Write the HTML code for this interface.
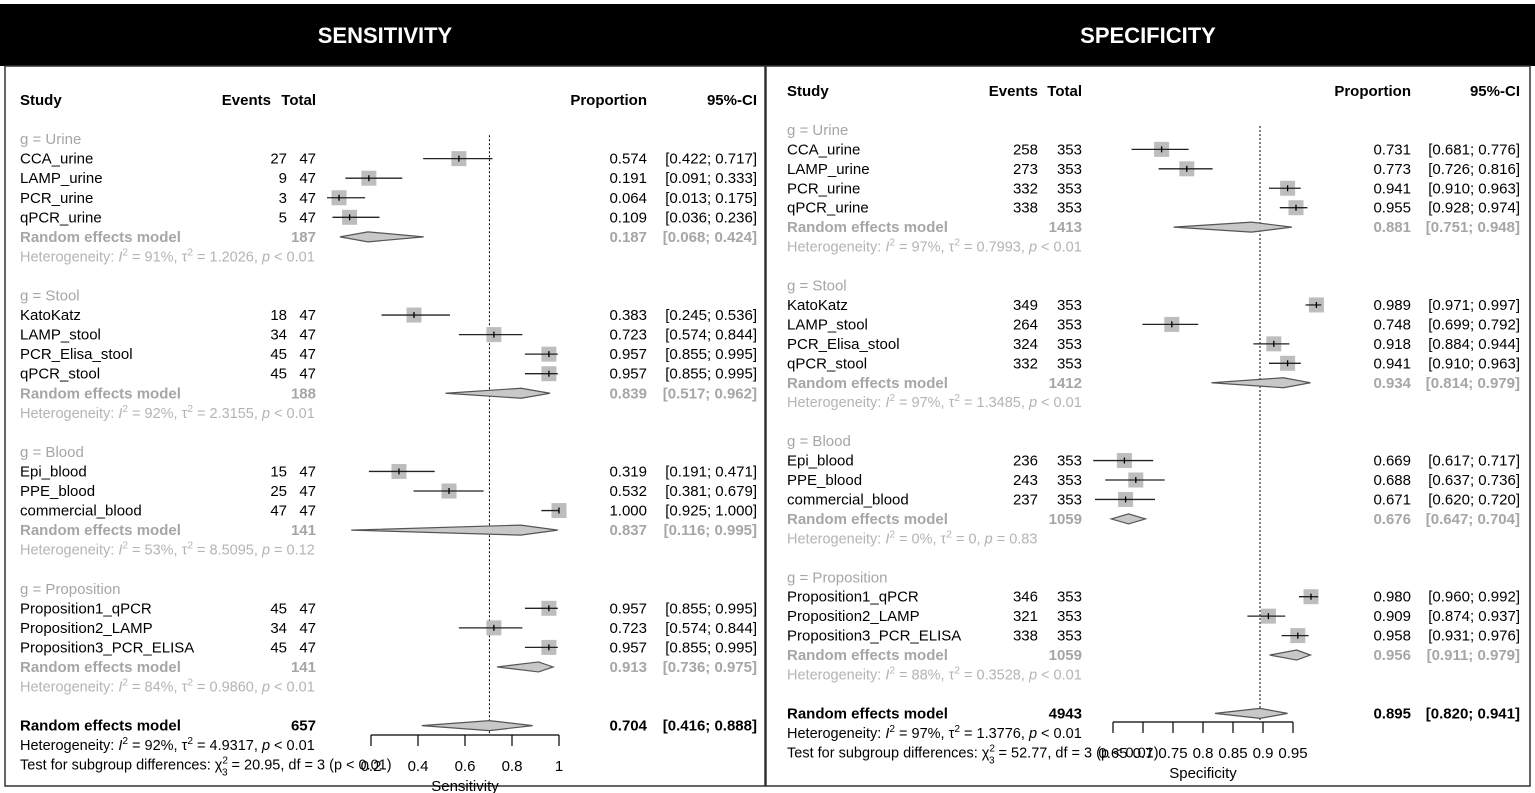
<!DOCTYPE html>
<html><head><meta charset="utf-8"><style>
html,body{margin:0;padding:0;background:#fff;}
svg{display:block;font-family:"Liberation Sans",Arial,sans-serif;}
</style></head><body>
<svg id="chart" width="1535" height="793" viewBox="0 0 1535 793" xmlns="http://www.w3.org/2000/svg">
<rect x="0" y="0" width="1535" height="793" fill="#fff"/>
<rect x="0" y="4" width="1535" height="62" fill="#000"/>
<text x="385" y="43" fill="#fff" font-size="22" font-weight="bold" text-anchor="middle">SENSITIVITY</text>
<text x="1148" y="43" fill="#fff" font-size="22" font-weight="bold" text-anchor="middle">SPECIFICITY</text>
<rect x="5" y="66" width="760" height="720" fill="none" stroke="#333" stroke-width="1.5"/>
<rect x="766" y="66" width="764" height="720" fill="none" stroke="#333" stroke-width="1.5"/>
<g id="left"></g><g id="right"></g>
</svg>
<script>
// ===== Sensitivity data =====
const sensGroups = ["Urine","Stool","Blood","Proposition"];
const sensStudies = ["CCA_urine","LAMP_urine","PCR_urine","qPCR_urine","KatoKatz","LAMP_stool","PCR_Elisa_stool","qPCR_stool","Epi_blood","PPE_blood","commercial_blood","Proposition1_qPCR","Proposition2_LAMP","Proposition3_PCR_ELISA"];
const sensStudyGroup = [0,0,0,0,1,1,1,1,2,2,2,3,3,3];
const sensEvents = [27,9,3,5,18,34,45,45,15,25,47,45,34,45];
const sensTotals = [47,47,47,47,47,47,47,47,47,47,47,47,47,47];
const sensProp = [0.574,0.191,0.064,0.109,0.383,0.723,0.957,0.957,0.319,0.532,1.000,0.957,0.723,0.957];
const sensLo = [0.422,0.091,0.013,0.036,0.245,0.574,0.855,0.855,0.191,0.381,0.925,0.855,0.574,0.855];
const sensHi = [0.717,0.333,0.175,0.236,0.536,0.844,0.995,0.995,0.471,0.679,1.000,0.995,0.844,0.995];
const sensGroupTotal = [187,188,141,141];
const sensGroupEst = [0.187,0.839,0.837,0.913];
const sensGroupLo = [0.068,0.517,0.116,0.736];
const sensGroupHi = [0.424,0.962,0.995,0.975];
const sensGroupI2 = ["91%","92%","53%","84%"];
const sensGroupTau2 = ["1.2026","2.3155","8.5095","0.9860"];
const sensGroupP = ["p < 0.01","p < 0.01","p = 0.12","p < 0.01"];
const sensOverall = [657,0.704,0.416,0.888];
const sensOverallHet = ["92%","4.9317","p < 0.01"];
const sensTest = ["20.95","3","(p < 0.01)"];
const sensTicks = [0.2,0.4,0.6,0.8,1];
const sensTickLabels = ["0.2","0.4","0.6","0.8","1"];

// ===== Specificity data =====
const specGroups = ["Urine","Stool","Blood","Proposition"];
const specStudies = ["CCA_urine","LAMP_urine","PCR_urine","qPCR_urine","KatoKatz","LAMP_stool","PCR_Elisa_stool","qPCR_stool","Epi_blood","PPE_blood","commercial_blood","Proposition1_qPCR","Proposition2_LAMP","Proposition3_PCR_ELISA"];
const specStudyGroup = [0,0,0,0,1,1,1,1,2,2,2,3,3,3];
const specEvents = [258,273,332,338,349,264,324,332,236,243,237,346,321,338];
const specTotals = [353,353,353,353,353,353,353,353,353,353,353,353,353,353];
const specProp = [0.731,0.773,0.941,0.955,0.989,0.748,0.918,0.941,0.669,0.688,0.671,0.980,0.909,0.958];
const specLo = [0.681,0.726,0.910,0.928,0.971,0.699,0.884,0.910,0.617,0.637,0.620,0.960,0.874,0.931];
const specHi = [0.776,0.816,0.963,0.974,0.997,0.792,0.944,0.963,0.717,0.736,0.720,0.992,0.937,0.976];
const specGroupTotal = [1413,1412,1059,1059];
const specGroupEst = [0.881,0.934,0.676,0.956];
const specGroupLo = [0.751,0.814,0.647,0.911];
const specGroupHi = [0.948,0.979,0.704,0.979];
const specGroupI2 = ["97%","97%","0%","88%"];
const specGroupTau2 = ["0.7993","1.3485","0","0.3528"];
const specGroupP = ["p < 0.01","p < 0.01","p = 0.83","p < 0.01"];
const specOverall = [4943,0.895,0.820,0.941];
const specOverallHet = ["97%","1.3776","p < 0.01"];
const specTest = ["52.77","3","(p < 0.01)"];
const specTicks = [0.65,0.7,0.75,0.8,0.85,0.9,0.95];
const specTickLabels = ["0.65","0.7","0.75","0.8","0.85","0.9","0.95"];

const NS="http://www.w3.org/2000/svg";
function mk(parent,tag,attrs,txt){const e=document.createElementNS(NS,tag);for(const k in attrs)e.setAttribute(k,attrs[k]);if(txt!==undefined)e.textContent=txt;parent.appendChild(e);return e;}
function f3(v){return v.toFixed(3);}

function drawPanel(root,P){
  const x=v=>P.x0+(v-P.v0)*P.scale;
  const rowY=r=>P.base+r*P.step;
  const FS=15, GRAY="#a6a6a6", LG="#b4b4b4";
  function txt(xp,r,s,opts){
    const t=mk(root,"text",{x:xp,y:rowY(r)+5,"font-size":opts.fs||FS,fill:opts.fill||"#000","text-anchor":opts.anchor||"start","font-weight":opts.bold?"bold":"normal"},s);
    return t;
  }
  function het(r,i2,tau,p,fill,fs){
    const t=mk(root,"text",{x:P.colStudy,y:rowY(r)+5,"font-size":fs,fill:fill});
    
    
    mk(t,"tspan",{},"Heterogeneity: ");
    mk(t,"tspan",{"font-style":"italic"},"I");
    mk(t,"tspan",{"font-size":fs*0.7,dy:-6},"2");
    mk(t,"tspan",{dy:6},` = ${i2}, τ`);
    mk(t,"tspan",{"font-size":fs*0.7,dy:-6},"2");
    const pp=p.split(" ");
    mk(t,"tspan",{dy:6},` = ${tau}, `);
    mk(t,"tspan",{"font-style":"italic"},pp[0]);
    mk(t,"tspan",{}," "+pp.slice(1).join(" "));
  }
  function diamond(r,est,lo,hi,name){
    const y=rowY(r);
    const d=mk(root,"polygon",{points:`${x(lo)},${y} ${x(est)},${y-5} ${x(hi)},${y} ${x(est)},${y+5}`,fill:"#c8c8c8",stroke:"#555","stroke-width":1.2});
    
    
  }
  const hs=[["Study",P.colStudy,"start","column-header-study"],["Events",P.colEvH,"end","column-header-events"],["Total",P.colTot,"end","column-header-total"],["Proportion",P.colProp,"end","column-header-proportion"],["95%-CI",P.colCI,"end","column-header-ci"]];
  hs.forEach(h=>{const t=txt(h[1],0,h[0],{bold:true,anchor:h[2]});});
  const ref=mk(root,"line",{x1:x(P.overall[1]),x2:x(P.overall[1]),y1:rowY(1.8),y2:P.axisY,stroke:"#000","stroke-dasharray":"2,2","stroke-width":1});
  
  
  let r=2, si=0;
  for(let g=0;g<P.groups.length;g++){
    const gt=txt(P.colStudy,r,"g = "+P.groups[g],{fill:GRAY});
    
    
    r++;
    while(si<P.studies.length && P.sg[si]===g){
      const y=rowY(r);
      const n=txt(P.colStudy,r,P.studies[si],{});
      
      
      const e=txt(P.colEv,r,String(P.ev[si]),{anchor:"end"});
      
      
      const tt=txt(P.colTot,r,String(P.tot[si]),{anchor:"end"});
      
      
      const pr=txt(P.colProp,r,f3(P.prop[si]),{anchor:"end"});
      
      
      const ci=txt(P.colCI,r,`[${f3(P.lo[si])}; ${f3(P.hi[si])}]`,{anchor:"end"});
      
      
      const sq=mk(root,"rect",{x:x(P.prop[si])-7.5,y:y-7.5,width:15,height:15,fill:"#bdbdbd"});
      
      
      const ln=mk(root,"line",{x1:x(P.lo[si]),x2:x(P.hi[si]),y1:y,y2:y,stroke:"#222","stroke-width":1.3});
      
      
      const tk=mk(root,"line",{x1:x(P.prop[si]),x2:x(P.prop[si]),y1:y-3,y2:y+3,stroke:"#000","stroke-width":1.3});
      
      
      si++; r++;
    }
    const rl=txt(P.colStudy,r,"Random effects model",{fill:GRAY,bold:true});
    
    
    const rt=txt(P.colTot,r,String(P.gTot[g]),{fill:GRAY,bold:true,anchor:"end"});
    
    
    const rp=txt(P.colProp,r,f3(P.gEst[g]),{fill:GRAY,bold:true,anchor:"end"});
    
    
    const rc=txt(P.colCI,r,`[${f3(P.gLo[g])}; ${f3(P.gHi[g])}]`,{fill:GRAY,bold:true,anchor:"end"});
    
    
    diamond(r,P.gEst[g],P.gLo[g],P.gHi[g],'subgroup-diamond');
    r++;
    het(r,P.gI2[g],P.gTau[g],P.gP[g],LG,14.5);
    r+=2;
  }
  const ol=txt(P.colStudy,r,"Random effects model",{bold:true});
  
  
  const ot=txt(P.colTot,r,String(P.overall[0]),{bold:true,anchor:"end"});
  
  
  const op=txt(P.colProp,r,f3(P.overall[1]),{bold:true,anchor:"end"});
  
  
  const oc=txt(P.colCI,r,`[${f3(P.overall[2])}; ${f3(P.overall[3])}]`,{bold:true,anchor:"end"});
  
  
  diamond(r,P.overall[1],P.overall[2],P.overall[3],'overall-diamond');
  het(r+1,P.oHet[0],P.oHet[1],P.oHet[2],"#000",14.5);
  const t=mk(root,"text",{x:P.colStudy,y:rowY(r+2)+5,"font-size":14.5,fill:"#000"});
  
  
  mk(t,"tspan",{},"Test for subgroup differences: χ");
  mk(t,"tspan",{"font-size":10,dy:-6},"2");
  mk(t,"tspan",{"font-size":10,dx:-6,dy:12},"3");
  mk(t,"tspan",{dy:-6},` = ${P.test[0]}, df = ${P.test[1]} `);
  mk(t,"tspan",{},P.test[2]);
  const ax=mk(root,"line",{x1:x(P.ticks[0]),x2:x(P.ticks[P.ticks.length-1]),y1:P.axisY,y2:P.axisY,stroke:"#000","stroke-width":1.2});
  
  
  P.ticks.forEach((v,i)=>{
    const l=mk(root,"line",{x1:x(v),x2:x(v),y1:P.axisY,y2:P.axisY+11,stroke:"#000","stroke-width":1.2});
    
    
    const tl=mk(root,"text",{x:x(v),y:P.axisY+36,"font-size":15,"text-anchor":"middle"},P.tickLabels[i]);
    
    
  });
  const xt=mk(root,"text",{x:(x(P.ticks[0])+x(P.ticks[P.ticks.length-1]))/2,y:P.axisY+56,"font-size":15,"text-anchor":"middle"},P.axisTitle);
  
  
}

drawPanel(document.getElementById("left"),{
  x0:371,v0:0.2,scale:235,base:100,step:19.55,axisY:735,
  colStudy:20,colEv:287,colEvH:271,colTot:316,colProp:647,colCI:757,
  groups:sensGroups,studies:sensStudies,sg:sensStudyGroup,ev:sensEvents,tot:sensTotals,prop:sensProp,lo:sensLo,hi:sensHi,
  gTot:sensGroupTotal,gEst:sensGroupEst,gLo:sensGroupLo,gHi:sensGroupHi,gI2:sensGroupI2,gTau:sensGroupTau2,gP:sensGroupP,
  overall:sensOverall,oHet:sensOverallHet,test:sensTest,ticks:sensTicks,tickLabels:sensTickLabels,axisTitle:"Sensitivity"
});
drawPanel(document.getElementById("right"),{
  x0:1113,v0:0.65,scale:600,base:91,step:19.45,axisY:722,
  colStudy:787,colEv:1038,colEvH:1038,colTot:1082,colProp:1411,colCI:1520,
  groups:specGroups,studies:specStudies,sg:specStudyGroup,ev:specEvents,tot:specTotals,prop:specProp,lo:specLo,hi:specHi,
  gTot:specGroupTotal,gEst:specGroupEst,gLo:specGroupLo,gHi:specGroupHi,gI2:specGroupI2,gTau:specGroupTau2,gP:specGroupP,
  overall:specOverall,oHet:specOverallHet,test:specTest,ticks:specTicks,tickLabels:specTickLabels,axisTitle:"Specificity"
});
</script>
</body></html>
